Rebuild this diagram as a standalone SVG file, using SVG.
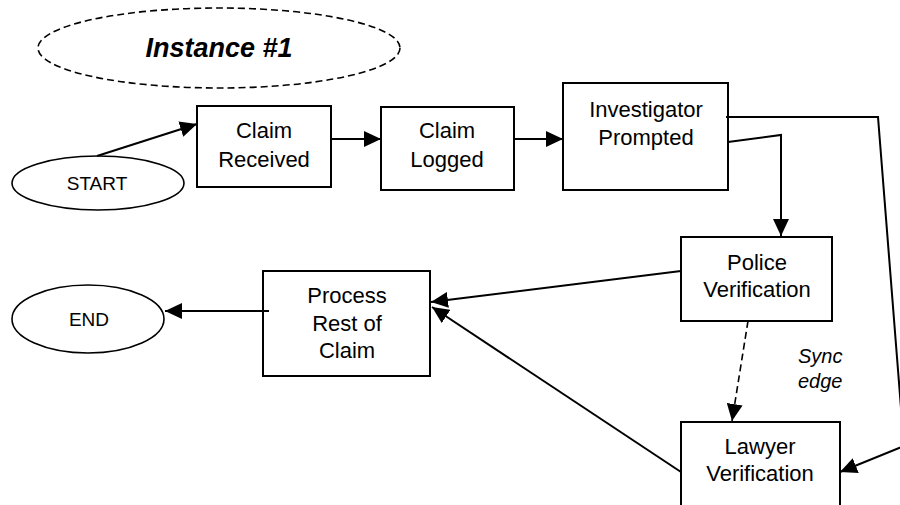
<svg xmlns="http://www.w3.org/2000/svg" width="900" height="505" viewBox="0 0 900 505">
<style>
.box{fill:#fff;stroke:#000;stroke-width:2}
.el{fill:#fff;stroke:#000;stroke-width:1.6}
.ln{fill:none;stroke:#000;stroke-width:2}
.dash{fill:none;stroke:#000;stroke-width:1.6;stroke-dasharray:7 4}
.t{font-family:"Liberation Sans",Arial,sans-serif;font-size:22px;text-anchor:middle;fill:#000}
.s{font-size:19px}
.title{font-family:"Liberation Sans",Arial,sans-serif;font-size:27px;font-weight:bold;font-style:italic;text-anchor:middle}
.sync{font-family:"Liberation Sans",Arial,sans-serif;font-size:20px;font-style:italic}
</style>
<defs>
<marker id="ah" markerUnits="userSpaceOnUse" markerWidth="18" markerHeight="16" viewBox="0 0 18 16" refX="17" refY="8" orient="auto">
<path d="M0,0 L17,8 L0,16 z" fill="#000"/>
</marker>
</defs>
<g id="instance">
<ellipse cx="219" cy="48" rx="181" ry="40" class="dash"/>
<text x="219" y="57" class="title">Instance #1</text>
</g>
<g id="start">
<ellipse cx="98" cy="183" rx="86" ry="27" class="el"/>
<text x="97" y="190" class="t s">START</text>
</g>
<g id="claim-received">
<rect x="197" y="106" width="134" height="81" class="box"/>
<text x="264" y="138" class="t">Claim</text>
<text x="264" y="167" class="t">Received</text>
</g>
<g id="claim-logged">
<rect x="381" y="107" width="133" height="83" class="box"/>
<text x="447" y="138" class="t">Claim</text>
<text x="447" y="167" class="t">Logged</text>
</g>
<g id="investigator-prompted">
<rect x="563" y="83" width="165" height="107" class="box"/>
<text x="646" y="117" class="t">Investigator</text>
<text x="646" y="145" class="t">Prompted</text>
</g>
<g id="police-verification">
<rect x="681" y="237" width="151" height="84" class="box"/>
<text x="757" y="270" class="t">Police</text>
<text x="757" y="297" class="t">Verification</text>
</g>
<g id="process-rest">
<rect x="263" y="271" width="167" height="105" class="box"/>
<text x="347" y="303" class="t">Process</text>
<text x="347" y="331" class="t">Rest of</text>
<text x="347" y="358" class="t">Claim</text>
</g>
<g id="end">
<ellipse cx="88" cy="319" rx="76" ry="34" class="el"/>
<text x="89" y="326" class="t s">END</text>
</g>
<g id="lawyer-verification">
<rect x="681" y="422" width="159" height="100" class="box"/>
<text x="760" y="454" class="t">Lawyer</text>
<text x="760" y="481" class="t">Verification</text>
</g>
<g id="connectors">
<line x1="97" y1="156" x2="197" y2="124" class="ln" marker-end="url(#ah)"/>
<line x1="331" y1="139" x2="381" y2="139" class="ln" marker-end="url(#ah)"/>
<line x1="514" y1="139" x2="563" y2="139" class="ln" marker-end="url(#ah)"/>
<polyline points="728,142 781,135 781,236" class="ln" marker-end="url(#ah)"/>
<polyline points="726,117 878,117 904,446 840,472" class="ln" marker-end="url(#ah)"/>
<line x1="681" y1="271" x2="431" y2="302" class="ln" marker-end="url(#ah)"/>
<line x1="681" y1="472" x2="432" y2="307" class="ln" marker-end="url(#ah)"/>
<line x1="269" y1="311" x2="165" y2="311" class="ln" marker-end="url(#ah)"/>
<line x1="748" y1="321" x2="732" y2="421" class="dash" marker-end="url(#ah)"/>
<text x="798" y="363" class="sync">Sync</text>
<text x="798" y="388" class="sync">edge</text>
</g>
</svg>
